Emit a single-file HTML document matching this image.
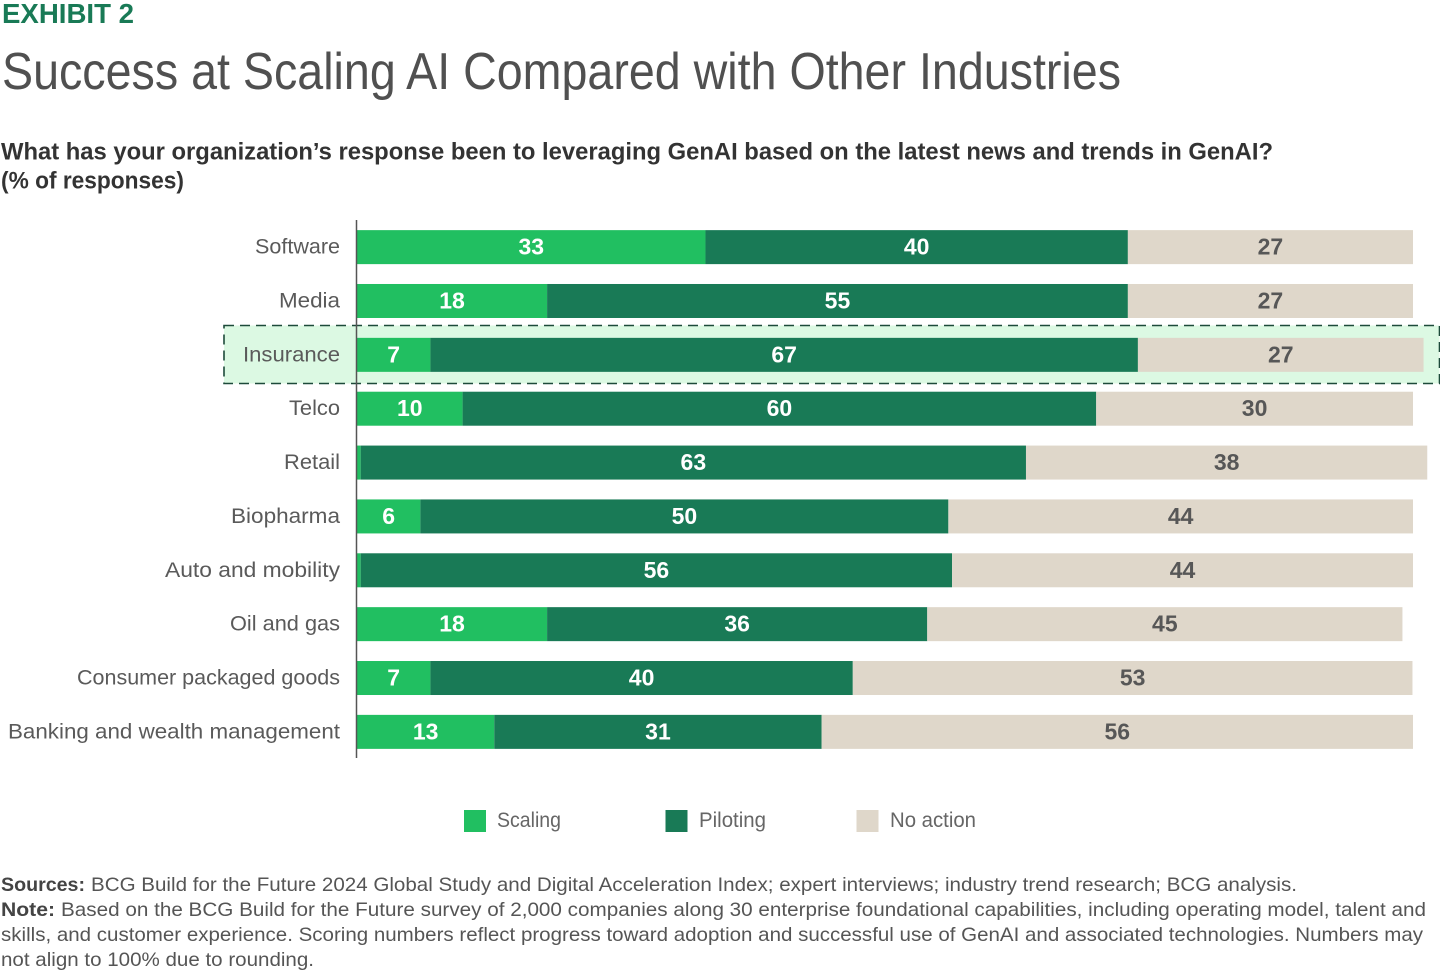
<!DOCTYPE html>
<html lang="en">
<head>
<meta charset="utf-8">
<title>Success at Scaling AI Compared with Other Industries</title>
<style>
html,body{margin:0;padding:0;background:#fff;width:1440px;height:972px;overflow:hidden}
svg{display:block}
text{font-family:"Liberation Sans",sans-serif}
.foot{font-size:19.5px;fill:#555}
.footb{font-size:19.5px;fill:#444;font-weight:bold}
</style>
</head>
<body>
<svg id="chart" width="1440" height="972" viewBox="0 0 1440 972" xmlns="http://www.w3.org/2000/svg">
  <text x="2" y="23" font-size="28" font-weight="bold" fill="#197a56" textLength="132" lengthAdjust="spacingAndGlyphs">EXHIBIT 2</text>
  <text x="2" y="89" font-size="52" fill="#505050" textLength="1119" lengthAdjust="spacingAndGlyphs">Success at Scaling AI Compared with Other Industries</text>
  <text x="1" y="159.500" font-size="24" font-weight="bold" fill="#333" textLength="1272" lengthAdjust="spacingAndGlyphs">What has your organization’s response been to leveraging GenAI based on the latest news and trends in GenAI?</text>
  <text x="1" y="188.500" font-size="24" font-weight="bold" fill="#333" textLength="183" lengthAdjust="spacingAndGlyphs">(% of responses)</text>

  <rect x="224" y="325.500" width="1215.500" height="58" fill="#dcf9e3" stroke="#1d4a3a" stroke-width="1.6" stroke-dasharray="10 6"/>
  <g id="bars"></g>
  <g id="cats"></g>
  <line x1="356.500" y1="220" x2="356.500" y2="758" stroke="#555" stroke-width="1.5"/>

  <g>
    <g>
      <rect x="464" y="810" width="22" height="22" fill="#21bf61"/>
      <text x="497" y="827" font-size="21" fill="#666" textLength="64" lengthAdjust="spacingAndGlyphs">Scaling</text>
    </g>
    <g>
      <rect x="665.500" y="810" width="22" height="22" fill="#197a56"/>
      <text x="699" y="827" font-size="21" fill="#666" textLength="67" lengthAdjust="spacingAndGlyphs">Piloting</text>
    </g>
    <g>
      <rect x="856.500" y="810" width="22" height="22" fill="#dfd7ca"/>
      <text x="890" y="827" font-size="21" fill="#666" textLength="86" lengthAdjust="spacingAndGlyphs">No action</text>
    </g>
  </g>

  <g>
    <text class="footb" x="1" y="891" textLength="84" lengthAdjust="spacingAndGlyphs">Sources:</text>
    <text class="foot" x="91" y="891" textLength="1206" lengthAdjust="spacingAndGlyphs">BCG Build for the Future 2024 Global Study and Digital Acceleration Index; expert interviews; industry trend research; BCG analysis.</text>
    <text class="footb" x="1" y="916" textLength="54" lengthAdjust="spacingAndGlyphs">Note:</text>
    <text class="foot" x="61" y="916" textLength="1365" lengthAdjust="spacingAndGlyphs">Based on the BCG Build for the Future survey of 2,000 companies along 30 enterprise foundational capabilities, including operating model, talent and</text>
    <text class="foot" x="1" y="941" textLength="1422" lengthAdjust="spacingAndGlyphs">skills, and customer experience. Scoring numbers reflect progress toward adoption and successful use of GenAI and associated technologies. Numbers may</text>
    <text class="foot" x="1" y="966" textLength="313" lengthAdjust="spacingAndGlyphs">not align to 100% due to rounding.</text>
  </g>
</svg>
<script>
const categories = ["Software","Media","Insurance","Telco","Retail","Biopharma","Auto and mobility","Oil and gas","Consumer packaged goods","Banking and wealth management"];
const scaling  = [33,18,6.95,10,0.35,6,0.35,18,6.95,13];
const piloting = [40,55,67,60,63,50,56,36,40,31];
const noAction = [27,27,27.05,30,38,44,43.65,45,53,56];

const NS = "http://www.w3.org/2000/svg";
const AXIS_X = 357, PX_PER_PCT = 10.56, BAND_TOP = 220.2, BAND_STEP = 53.86, BAR_H = 34;
// Typography fit: rendered width of each category name in the reference typeface.
const LABEL_FIT = new Map([["Software",85],["Media",61],["Insurance",97],["Telco",51],["Retail",56],["Biopharma",109],["Auto and mobility",175],["Oil and gas",110],["Consumer packaged goods",263],["Banking and wealth management",332]]);
function xScale(v){ return AXIS_X + v * PX_PER_PCT; }
function yCenter(i){ return BAND_TOP + BAND_STEP * (i + 0.5); }

const barsG = document.getElementById("bars");
const catsG = document.getElementById("cats");

function addSegment(i, start, value, fill, textFill, seriesName){
  const r = document.createElementNS(NS, "rect");
  
  
  r.setAttribute("x", xScale(start));
  r.setAttribute("y", yCenter(i) - BAR_H / 2);
  r.setAttribute("width", xScale(start + value) - xScale(start));
  r.setAttribute("height", BAR_H);
  r.setAttribute("fill", fill);
  barsG.appendChild(r);
  if (value >= 1) {
    const t = document.createElementNS(NS, "text");
    
    
    t.setAttribute("x", xScale(start + value / 2));
    t.setAttribute("y", yCenter(i) + 7.5);
    t.setAttribute("text-anchor", "middle");
    t.setAttribute("font-size", "23");
    t.setAttribute("font-weight", "bold");
    t.setAttribute("fill", textFill);
    t.textContent = Math.round(value);
    barsG.appendChild(t);
  }
}

categories.forEach(function(name, i){
  const c = document.createElementNS(NS, "text");
  
  
  c.setAttribute("x", 340);
  c.setAttribute("y", yCenter(i) + 6.5);
  c.setAttribute("text-anchor", "end");
  c.setAttribute("font-size", "21.6");
  c.setAttribute("fill", "#5a5a5a");
  if (LABEL_FIT.has(name)) {
    c.setAttribute("textLength", LABEL_FIT.get(name));
    c.setAttribute("lengthAdjust", "spacingAndGlyphs");
  }
  c.textContent = name;
  catsG.appendChild(c);

  addSegment(i, 0, scaling[i], "#21bf61", "#fff", "scaling");
  addSegment(i, scaling[i], piloting[i], "#197a56", "#fff", "piloting");
  addSegment(i, scaling[i] + piloting[i], noAction[i], "#dfd7ca", "#575757", "no-action");
});
</script>
</body>
</html>
